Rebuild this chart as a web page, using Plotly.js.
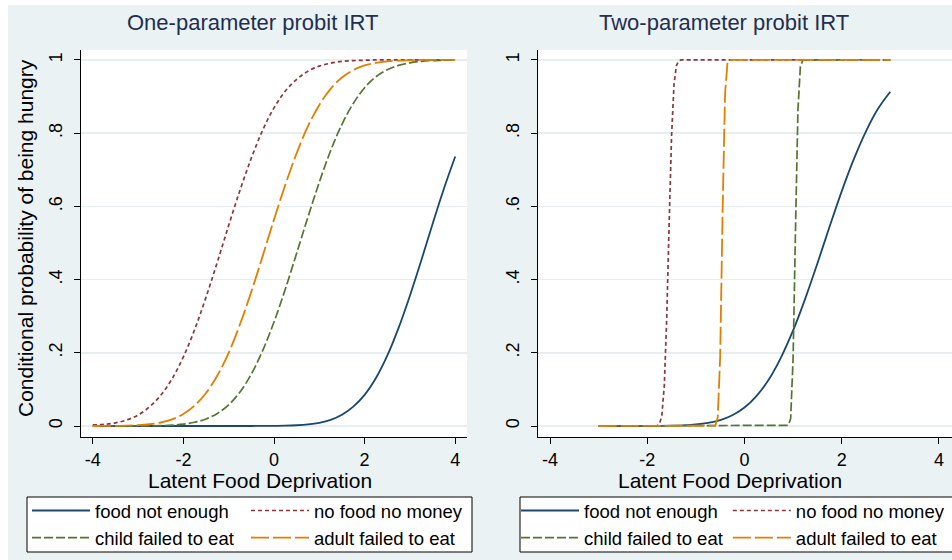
<!DOCTYPE html>
<html>
<head>
<meta charset="utf-8">
<script src="https://cdn.plot.ly/plotly-3.0.1.min.js"></script>
<style>html,body{margin:0;padding:0;background:#fff;}#chart{width:952px;height:560px;}</style>
</head>
<body>
<div id="chart"></div>
<script>
// ---------------- data ----------------
const seriesNames = ["food not enough", "no food no money", "child failed to eat", "adult failed to eat"];
const panelTitles = ["One-parameter probit IRT", "Two-parameter probit IRT"];
const xTitle = "Latent Food Deprivation";
const yTitle = "Conditional probability of being hungry";
const xTickVals = [-4, -2, 0, 2, 4];
const xTickText = ["-4", "-2", "0", "2", "4"];
const yTickVals = [0, 0.2, 0.4, 0.6, 0.8, 1];
const yTickText = ["0", ".2", ".4", ".6", ".8", "1"];

// One-parameter panel
const theta1 = [-4, -3.75, -3.5, -3.25, -3, -2.75, -2.5, -2.25, -2, -1.75, -1.5, -1.25, -1, -0.75, -0.5, -0.25,
                0, 0.25, 0.5, 0.75, 1, 1.25, 1.5, 1.75, 2, 2.25, 2.5, 2.75, 3, 3.25, 3.5, 3.75, 4];
const foodNotEnough1 = [0, 0, 0, 0, 0, 0, 0, 0, 0, 0, 0, 0, 0, 0, 0.0001, 0.0002,
                        0.0004, 0.0009, 0.0021, 0.0044, 0.0089, 0.017, 0.031, 0.053, 0.085, 0.131, 0.192, 0.268, 0.356, 0.452, 0.552, 0.648, 0.736];
const noFoodNoMoney1 = [0.003, 0.0045, 0.0087, 0.0166, 0.030, 0.052, 0.084, 0.129, 0.189, 0.264, 0.352, 0.448, 0.548, 0.644, 0.732, 0.808,
                        0.869, 0.915, 0.947, 0.969, 0.983, 0.991, 0.996, 0.998, 0.999, 1, 1, 1, 1, 1, 1, 1, 1];
const childFailed1 = [0, 0, 0, 0.0001, 0.0002, 0.0005, 0.0011, 0.0024, 0.0051, 0.0102, 0.0192, 0.0344, 0.058, 0.093, 0.142, 0.206,
                      0.284, 0.374, 0.472, 0.571, 0.666, 0.752, 0.824, 0.881, 0.924, 0.954, 0.973, 0.985, 0.992, 0.996, 0.998, 0.999, 1];
const adultFailed1 = [0.0001, 0.0002, 0.0004, 0.001, 0.0023, 0.0048, 0.0096, 0.018, 0.033, 0.056, 0.090, 0.138, 0.200, 0.278, 0.367, 0.464,
                      0.564, 0.659, 0.745, 0.819, 0.877, 0.921, 0.952, 0.972, 0.985, 0.992, 0.996, 0.998, 0.999, 1, 1, 1, 1];

// Two-parameter panel
const theta2Navy = [-3, -2.75, -2.5, -2.25, -2, -1.75, -1.5, -1.25, -1, -0.75, -0.5, -0.25, 0, 0.25, 0.5, 0.75, 1, 1.25, 1.5, 1.75, 2, 2.25, 2.5, 2.75, 3];
const foodNotEnough2 = [0, 0, 0, 0, 0.0001, 0.0003, 0.0008, 0.0019, 0.0041, 0.0084, 0.0162, 0.0294, 0.0505, 0.0823, 0.127, 0.187, 0.261, 0.348, 0.444, 0.544, 0.641, 0.729, 0.805, 0.867, 0.913];
const theta2Maroon = [-3, -2, -1.85, -1.8, -1.75, -1.7, -1.65, -1.6, -1.55, -1.5, -1.45, -1.4, -1.35, -1.3, -1.2, 0, 1, 2, 3];
const noFoodNoMoney2 = [0, 0, 0, 0.0006, 0.005, 0.029, 0.111, 0.295, 0.554, 0.794, 0.933, 0.985, 0.998, 1, 1, 1, 1, 1, 1];
const theta2Green = [-3, -2, -1, 0, 0.8, 0.85, 0.9, 0.95, 1.0, 1.05, 1.1, 1.15, 1.2, 1.25, 2, 3];
const childFailed2 = [0, 0, 0, 0, 0, 0, 0.002, 0.02, 0.184, 0.54, 0.864, 0.982, 0.999, 1, 1, 1];
const theta2Orange = [-3, -2, -1, -0.7, -0.65, -0.6, -0.55, -0.5, -0.45, -0.4, -0.35, -0.3, -0.2, 0, 1, 2, 3];
const adultFailed2 = [0, 0, 0, 0, 0, 0.001, 0.024, 0.19, 0.587, 0.907, 0.992, 1, 1, 1, 1, 1, 1];

// ---------------- styling ----------------
const W = 952, H = 560;
const FONT = '"Liberation Sans", Arial, Helvetica, sans-serif';
const colors = ["#1a476f", "#90353b", "#55752f", "#e37e00"];
const dashes = ["solid", "4px,3px", "9px,3px", "18px,4px"];
const widths = [1.8, 1.7, 1.7, 1.8];
const groups = ["A", "B", "A", "B"];
const BG = "#EAF2F3";
const GRID = "#E6EEF0";
const TITLE_COLOR = "#1F2E52";

const px = v => v / W;
const py = v => 1 - v / H;

function mk(x, y, i, panel, shape) {
  return {
    x: x, y: y, type: "scatter", mode: "lines",
    name: seriesNames[i],
    xaxis: panel === 1 ? "x" : "x2",
    yaxis: panel === 1 ? "y" : "y2",
    legend: panel === 1 ? "legend" : "legend2",
    legendgroup: groups[i] + panel,
    line: {color: colors[i], width: widths[i], dash: dashes[i], shape: shape, smoothing: 1},
    hoverinfo: "skip"
  };
}

const data = [
  mk(theta1, foodNotEnough1, 0, 1, "spline"),
  mk(theta1, noFoodNoMoney1, 1, 1, "spline"),
  mk(theta1, childFailed1, 2, 1, "spline"),
  mk(theta1, adultFailed1, 3, 1, "spline"),
  mk(theta2Navy, foodNotEnough2, 0, 2, "spline"),
  mk(theta2Maroon, noFoodNoMoney2, 1, 2, "linear"),
  mk(theta2Green, childFailed2, 2, 2, "linear"),
  mk(theta2Orange, adultFailed2, 3, 2, "linear")
];

const yDomain = [py(437), py(50)];
const yRange = [-0.030, 1.027];

function xAxis(domain, range, anchor) {
  return {
    domain: domain, range: range, anchor: anchor,
    tickvals: xTickVals, ticktext: xTickText,
    ticks: "outside", ticklen: 6, tickwidth: 1, tickcolor: "#000",
    showline: true, linecolor: "#000", linewidth: 1,
    showgrid: false, zeroline: false,
    tickfont: {family: FONT, size: 18, color: "#000"},
    fixedrange: true
  };
}
function yAxis(anchor) {
  return {
    domain: yDomain, range: yRange, anchor: anchor,
    tickvals: yTickVals, ticktext: yTickText, tickangle: -90,
    ticks: "outside", ticklen: 6, tickwidth: 1, tickcolor: "#000",
    ticklabelstandoff: 5,
    showline: true, linecolor: "#000", linewidth: 1,
    showgrid: true, gridcolor: GRID, gridwidth: 1.5, zeroline: false,
    tickfont: {family: FONT, size: 18, color: "#000"},
    fixedrange: true
  };
}

function legendCfg(xLeft, entryW) {
  const cfg = {
    x: px(xLeft), y: py(492), xanchor: "left", yanchor: "top",
    orientation: "h", traceorder: "grouped", tracegroupgap: 0,
    bgcolor: "rgba(0,0,0,0)", borderwidth: 0,
    font: {family: FONT, size: 18.5, color: "#000"},
    itemwidth: 58,
    itemclick: false, itemdoubleclick: false
  };
  if (entryW) { cfg.entrywidth = entryW; cfg.entrywidthmode = "pixels"; }
  return cfg;
}

const layout = {
  width: W, height: H,
  margin: {l: 0, r: 0, t: 0, b: 0, pad: 0, autoexpand: false},
  paper_bgcolor: BG, plot_bgcolor: "#FFFFFF",
  font: {family: FONT, color: "#000"},
  showlegend: true,
  hovermode: false,
  xaxis: xAxis([px(81), px(467)], [-4.26, 4.26], "y"),
  yaxis: yAxis("x"),
  xaxis2: xAxis([px(538), 1], [-4.249, 4.27], "y2"),
  yaxis2: yAxis("x2"),
  legend: legendCfg(27, 146),
  legend2: legendCfg(516, 0),
  annotations: [
    {text: panelTitles[0], xref: "paper", yref: "paper", x: px(252), y: py(23), xanchor: "center", yanchor: "middle",
     showarrow: false, font: {family: FONT, size: 22, color: TITLE_COLOR}},
    {text: panelTitles[1], xref: "paper", yref: "paper", x: px(723.5), y: py(23), xanchor: "center", yanchor: "middle",
     showarrow: false, font: {family: FONT, size: 22, color: TITLE_COLOR}},
    {text: yTitle, xref: "paper", yref: "paper", x: px(25), y: py(238), xanchor: "center", yanchor: "middle",
     textangle: -90, showarrow: false, font: {family: FONT, size: 21, color: "#000"}},
    {text: xTitle, xref: "paper", yref: "paper", x: px(260), y: py(480), xanchor: "center", yanchor: "middle",
     showarrow: false, font: {family: FONT, size: 21, color: "#000"}},
    {text: xTitle, xref: "paper", yref: "paper", x: px(730), y: py(480), xanchor: "center", yanchor: "middle",
     showarrow: false, font: {family: FONT, size: 21, color: "#000"}}
  ],
  shapes: [
    {type: "rect", xref: "paper", yref: "paper", x0: 0, x1: 1, y0: py(5), y1: 1, fillcolor: "#FFFFFF", line: {width: 0}, layer: "below"},
    {type: "rect", xref: "paper", yref: "paper", x0: 0, x1: px(8), y0: 0, y1: 1, fillcolor: "#FFFFFF", line: {width: 0}, layer: "below"},
    {type: "rect", xref: "paper", yref: "paper", x0: px(27), x1: px(472), y0: py(552), y1: py(497), fillcolor: "#FFFFFF", line: {color: "#000", width: 1}, layer: "below"},
    {type: "rect", xref: "paper", yref: "paper", x0: px(520), x1: px(966), y0: py(552), y1: py(497), fillcolor: "#FFFFFF", line: {color: "#000", width: 1}, layer: "below"}
  ]
};

Plotly.newPlot("chart", data, layout, {staticPlot: true, displayModeBar: false, responsive: false});
</script>
</body>
</html>
